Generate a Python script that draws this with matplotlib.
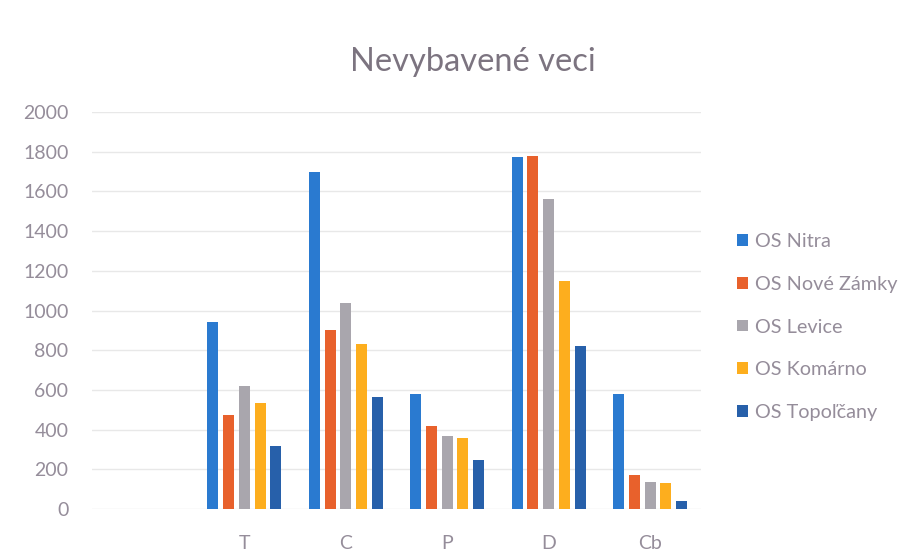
import matplotlib.pyplot as plt
import numpy as np

# data
categories = ["", "T", "C", "P", "D", "Cb"]
series_names = ["OS Nitra", "OS Nové Zámky", "OS Levice", "OS Komárno", "OS Topoľčany"]
nitra = [0, 940, 1700, 580, 1775, 580]
nove_zamky = [0, 475, 900, 420, 1780, 170]
levice = [0, 620, 1040, 370, 1560, 135]
komarno = [0, 535, 830, 360, 1150, 130]
topolcany = [0, 320, 565, 245, 820, 40]
colors = ["#2A7AD0", "#E8612C", "#A9A6AD", "#FDAE1E", "#2760AA"]

plt.rcParams["font.family"] = ["Lato", "DejaVu Sans"]
text_color = "#958D9A"

fig = plt.figure(figsize=(9.21, 5.6), dpi=100)
ax = fig.add_axes([0.1, 0.091, 0.661, 0.709])

series = [nitra, nove_zamky, levice, komarno, topolcany]
x = np.arange(len(categories))
step = 0.155
width = 0.108
for i, vals in enumerate(series):
    # empty first category carries no bars
    xs = x[1:] + (i - 2) * step
    ax.bar(xs, vals[1:], width, color=colors[i], label=series_names[i], zorder=3)

ax.set_xlim(-0.5, len(categories) - 0.5)
ax.set_ylim(0, 2000)
ax.set_yticks(np.arange(0, 2001, 200))
ax.set_xticks(x)
ax.set_xticklabels(categories)
ax.tick_params(axis="both", length=0, labelsize=14, colors=text_color)
ax.tick_params(axis="y", pad=17)
ax.tick_params(axis="x", pad=19)
ax.grid(axis="y", color="#E8E8E8", linewidth=1, zorder=0)
for s in ax.spines.values():
    s.set_visible(False)

fig.text(0.513, 0.889, "Nevybavené veci", ha="center", va="center",
         fontsize=23.5, color="#7C7480")

handles, labels = ax.get_legend_handles_labels()
leg = fig.legend(handles, labels, loc="center left", bbox_to_anchor=(0.781, 0.416),
                 frameon=False, fontsize=14.3, labelspacing=1.3,
                 handlelength=0.55, handleheight=0.55, handletextpad=0.35)
for t in leg.get_texts():
    t.set_color(text_color)

fig.savefig("out.png", dpi=100)
